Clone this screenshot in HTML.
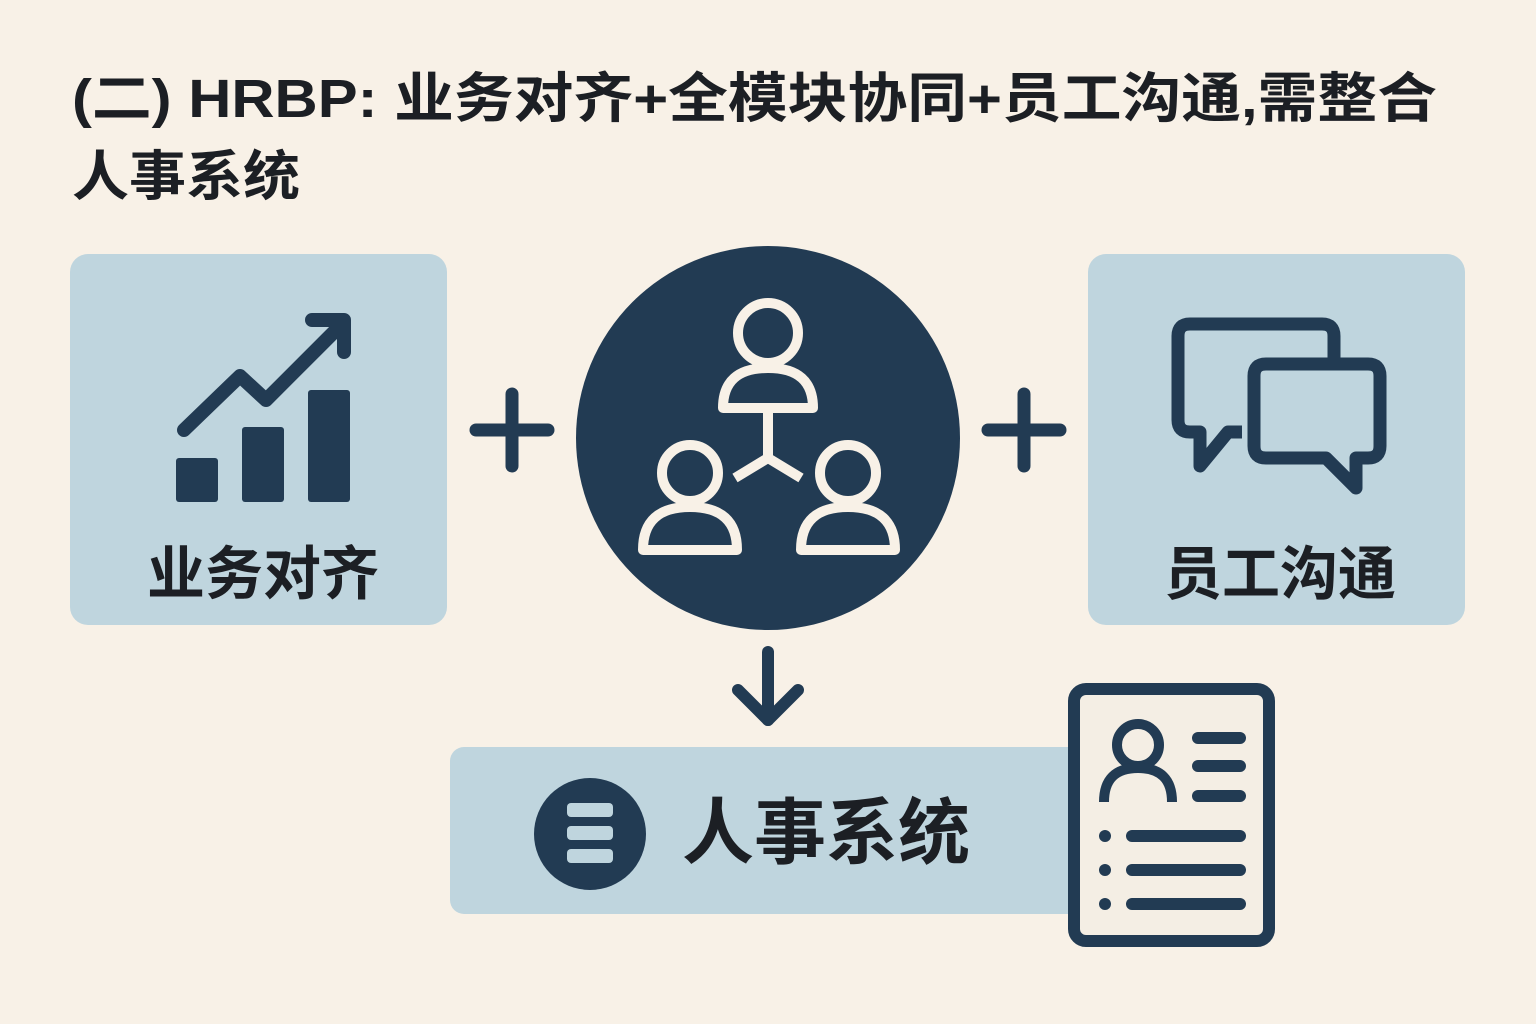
<!DOCTYPE html>
<html><head><meta charset="utf-8"><style>
html,body{margin:0;padding:0;background:#f8f1e7;}
svg{display:block}
text{font-family:"Liberation Sans","Noto Sans CJK SC",sans-serif;font-weight:bold;fill:#1c1f24}
</style></head><body>
<svg width="1536" height="1024" viewBox="0 0 1536 1024" xmlns="http://www.w3.org/2000/svg">
<rect width="1536" height="1024" fill="#f8f1e7"/>
<text x="72" y="117" font-size="54" textLength="1365" lengthAdjust="spacingAndGlyphs">(二) HRBP: 业务对齐+全模块协同+员工沟通,需整合</text>
<text x="72" y="195" font-size="54" textLength="228" lengthAdjust="spacingAndGlyphs">人事系统</text>

<!-- left box -->
<rect x="70" y="254" width="377" height="371" rx="18" fill="#bfd5de"/>
<g fill="#223b53">
<rect x="176" y="458" width="42" height="44" rx="3"/>
<rect x="242" y="427" width="42" height="75" rx="3"/>
<rect x="308" y="390" width="42" height="112" rx="3"/>
</g>
<polyline points="184,430 240,376 266,400 340,326" fill="none" stroke="#223b53" stroke-width="14" stroke-linecap="round" stroke-linejoin="round"/>
<polyline points="312,320 344,320 344,352" fill="none" stroke="#223b53" stroke-width="14" stroke-linecap="round" stroke-linejoin="round"/>
<text x="263" y="594" font-size="58" text-anchor="middle">业务对齐</text>

<!-- plus -->
<g stroke="#223b53" stroke-width="13" stroke-linecap="round">
<line x1="476" y1="430" x2="548" y2="430"/><line x1="512" y1="394" x2="512" y2="466"/>
<line x1="988" y1="430" x2="1060" y2="430"/><line x1="1024" y1="394" x2="1024" y2="466"/>
</g>

<!-- circle -->
<circle cx="768" cy="438" r="192" fill="#223b53"/>
<g fill="none" stroke="#f8f1e7" stroke-width="10" stroke-linejoin="round">
<circle cx="768" cy="333" r="30"/>
<path d="M723,408 Q723,368 768,368 Q813,368 813,408 Z"/>
<circle cx="690" cy="473" r="28"/>
<path d="M643,550 Q643,507 690,507 Q737,507 737,550 Z"/>
<circle cx="848" cy="473" r="28"/>
<path d="M801,550 Q801,507 848,507 Q895,507 895,550 Z"/>
<line x1="768" y1="408" x2="768" y2="458"/>
<line x1="768" y1="458" x2="735" y2="478"/>
<line x1="768" y1="458" x2="801" y2="478"/>
</g>

<!-- right box -->
<rect x="1088" y="254" width="377" height="371" rx="18" fill="#bfd5de"/>
<g fill="none" stroke="#223b53" stroke-width="13" stroke-linejoin="round">
<path d="M1190,324 H1322 Q1334,324 1334,336 V364 M1242,432 H1228 L1200,466 V432 H1190 Q1178,432 1178,420 V336 Q1178,324 1190,324"/>
<path d="M1266,364 H1368 Q1380,364 1380,376 V446 Q1380,458 1368,458 H1356 V488 L1326,458 H1266 Q1254,458 1254,446 V376 Q1254,364 1266,364 Z"/>
</g>
<text x="1280" y="594" font-size="58" text-anchor="middle">员工沟通</text>

<!-- arrow -->
<g fill="none" stroke="#223b53" stroke-width="12" stroke-linecap="round" stroke-linejoin="round">
<line x1="768" y1="652" x2="768" y2="720"/>
<polyline points="738,690 768,720 798,690"/>
</g>

<!-- bottom box -->
<rect x="450" y="747" width="640" height="167" rx="14" fill="#bfd5de"/>
<circle cx="590" cy="834" r="56" fill="#223b53"/>
<g fill="#bfd5de">
<rect x="567" y="803" width="46" height="14" rx="4"/>
<rect x="567" y="826" width="46" height="14" rx="4"/>
<rect x="567" y="849" width="46" height="14" rx="4"/>
</g>
<text x="682" y="858" font-size="72">人事系统</text>

<!-- document -->
<rect x="1074" y="689" width="195" height="252" rx="12" fill="#f4eee4" stroke="#223b53" stroke-width="12"/>
<g fill="none" stroke="#223b53" stroke-width="10">
<circle cx="1138" cy="745" r="21"/>
<path d="M1104,802 Q1104,768 1138,768 Q1172,768 1172,802"/>
</g>
<g stroke="#223b53" stroke-width="12" stroke-linecap="round">
<line x1="1198" y1="738" x2="1240" y2="738"/>
<line x1="1198" y1="766" x2="1240" y2="766"/>
<line x1="1198" y1="796" x2="1240" y2="796"/>
<line x1="1132" y1="836" x2="1240" y2="836"/>
<line x1="1132" y1="870" x2="1240" y2="870"/>
<line x1="1132" y1="904" x2="1240" y2="904"/>
</g>
<g fill="#223b53">
<circle cx="1105" cy="836" r="6"/><circle cx="1105" cy="870" r="6"/><circle cx="1105" cy="904" r="6"/>
</g>
</svg>
</body></html>
